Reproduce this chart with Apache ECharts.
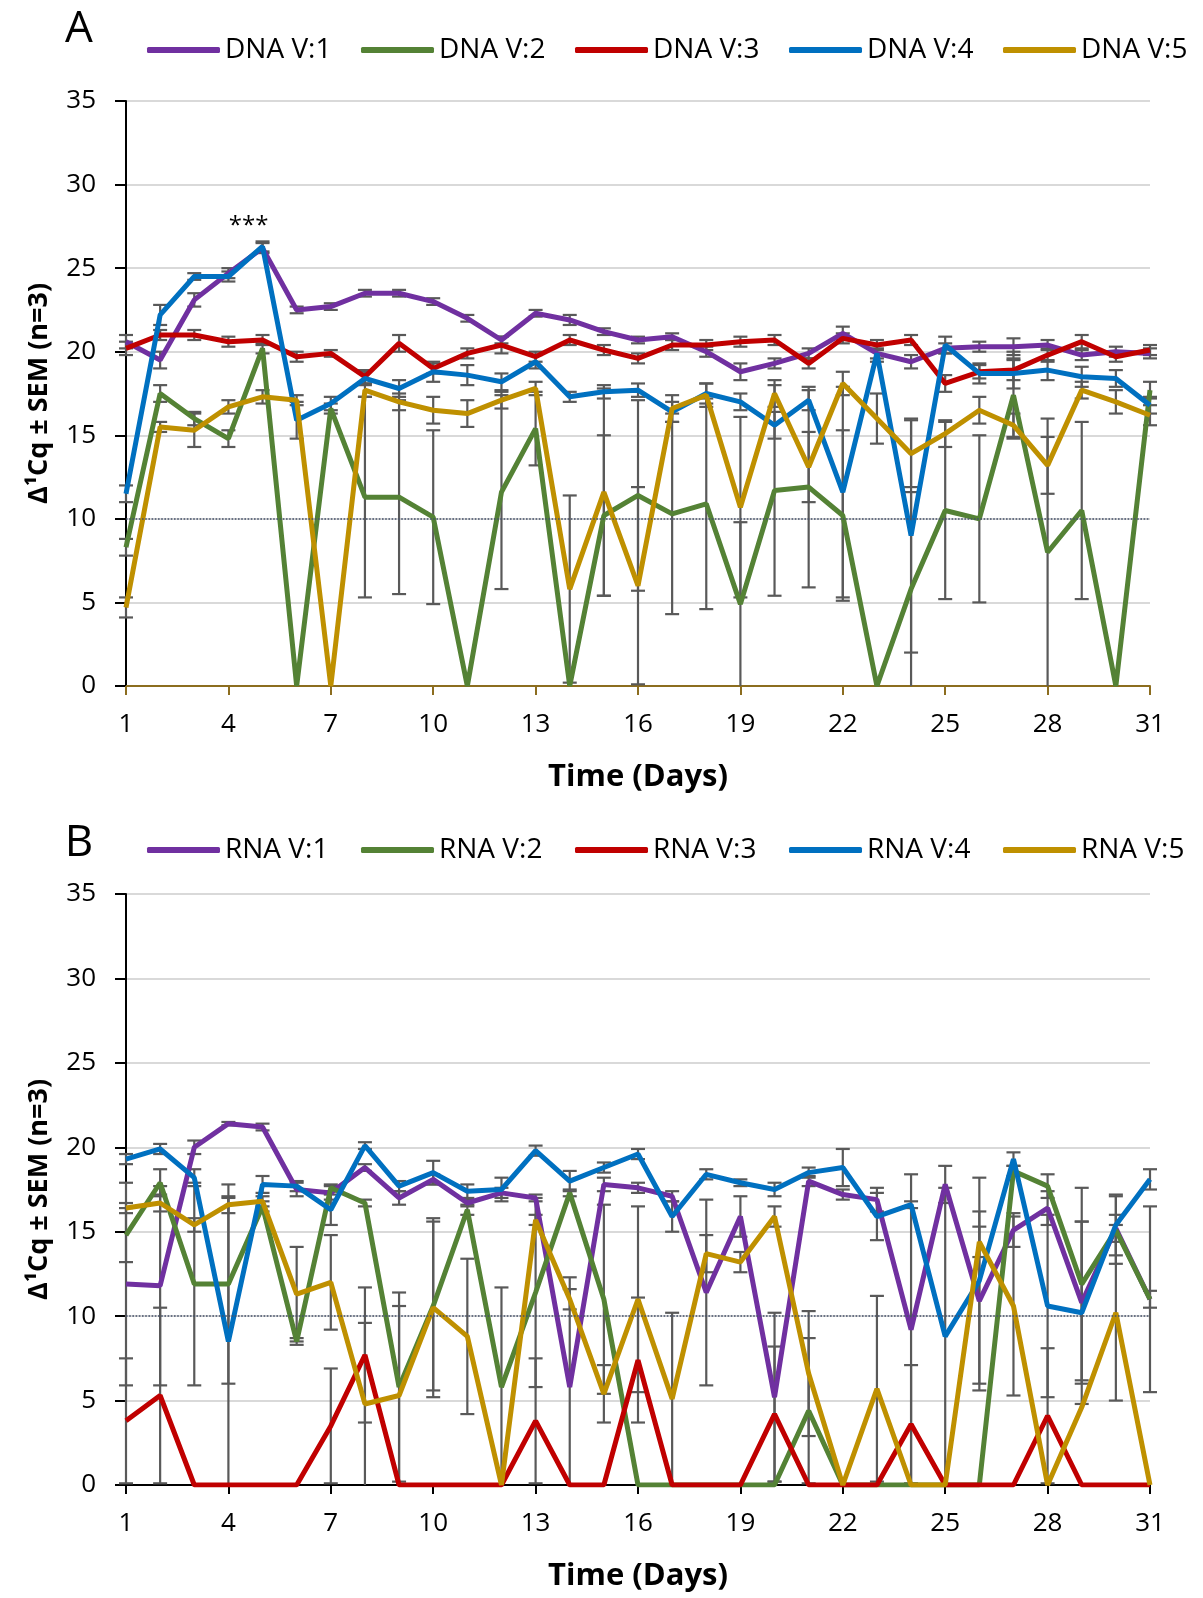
<!DOCTYPE html>
<html>
<head>
<meta charset="utf-8">
<script src="https://cdn.jsdelivr.net/npm/echarts@6/dist/echarts.min.js"></script>
<style>
html,body{margin:0;padding:0;background:#fff;}
#c{width:1203px;height:1598px;}
</style>
</head>
<body>
<div id="c"></div>
<script>
// ---------- data ----------
const days = ['1','2','3','4','5','6','7','8','9','10','11','12','13','14','15','16','17','18','19','20','21','22','23','24','25','26','27','28','29','30','31'];
const yTicks = [0, 5, 10, 15, 20, 25, 30, 35];
const dnaNames = ['DNA V:1','DNA V:2','DNA V:3','DNA V:4','DNA V:5'];
const rnaNames = ['RNA V:1','RNA V:2','RNA V:3','RNA V:4','RNA V:5'];

const dnaV1 = [20.6,19.5,23.1,24.7,26.2,22.5,22.7,23.5,23.5,23.0, 22.0,20.7,22.3,21.9,21.2,20.7,20.9,20.0,18.8,19.3, 19.9,21.1,19.9,19.4,20.2,20.3,20.3,20.4,19.8,20.0,19.9];
const dnaV2 = [8.3,17.5,16.0,14.8,20.2,0,16.6,11.3,11.3,10.1, 0,11.6,15.4,0,10.2,11.4,10.3,10.9,4.9,11.7, 11.9,10.2,0,5.8,10.5,10.0,17.4,8.0,10.5,0,17.7];
const dnaV3 = [20.2,21.0,21.0,20.6,20.7,19.7,19.9,18.5,20.5,19.0, 19.9,20.4,19.7,20.7,20.1,19.6,20.4,20.4,20.6,20.7, 19.3,20.8,20.4,20.7,18.1,18.8,18.9,19.8,20.6,19.7,20.1];
const dnaV4 = [11.5,22.2,24.5,24.5,26.3,15.9,16.9,18.4,17.8,18.8, 18.6,18.2,19.4,17.3,17.6,17.7,16.4,17.5,17.0,15.6, 17.1,11.6,19.9,9.0,20.4,18.7,18.7,18.9,18.5,18.4,16.8];
const dnaV5 = [4.7,15.5,15.3,16.7,17.3,17.1,0,17.7,17.0,16.5, 16.3,17.1,17.8,5.8,11.6,6.0,16.6,17.4,10.7,17.5, 13.1,18.1,16.0,13.9,15.1,16.5,15.6,13.2,17.7,17.0,16.2];

const dnaV1Sem = [0.4,0.5,0.4,0.3,0.3,0.2,0.2,0.2,0.2,0.2, 0.2,0.2,0.2,0.3,0.2,0.2,0.2,0.3,0.5,0.3, 0.3,0.4,0.3,0.4,0.3,0.3,0.5,0.3,0.3,0.3,0.3];
const dnaV2Sem = [0.5,0.5,0.4,0.5,0.3,0,0.3,6.0,5.8,5.2, 0,5.8,2.2,0,4.8,5.7,6.0,6.3,4.9,6.3, 6.0,5.1,0,5.8,5.3,5.0,2.6,8.0,5.3,0,0.5];
const dnaV3Sem = [0.4,0.3,0.3,0.3,0.3,0.3,0.2,0.4,0.5,0.3, 0.3,0.5,0.3,0.3,0.3,0.3,0.3,0.3,0.3,0.3, 0.3,0.3,0.3,0.3,0.5,0.4,0.6,0.4,0.4,0.3,0.3];
const dnaV4Sem = [0.5,0.6,0.2,0.3,0.3,1.1,0.4,0.4,0.5,0.6, 0.6,0.5,0.4,0.3,0.4,0.4,0.6,0.6,0.5,0.8, 0.6,6.3,0.5,7.0,0.5,0.6,0.9,0.6,0.6,0.5,0.5];
const dnaV5Sem = [0.6,0.3,1.0,0.4,0.4,0.3,0,0.4,0.5,0.8, 0.8,0.5,0.4,5.6,6.2,5.9,0.8,0.7,5.4,0.8, 2.1,0.7,1.5,2.0,0.8,0.8,0.7,1.7,0.5,0.7,0.6];

const rnaV1 = [11.9,11.8,20.0,21.4,21.2,17.5,17.3,18.8,17.0,18.1, 16.7,17.3,17.0,5.8,17.8,17.6,17.1,11.4,15.9,5.2, 18.0,17.2,16.9,9.2,17.8,10.9,15.1,16.4,10.8,15.2,11.0];
const rnaV2 = [14.8,17.9,11.9,11.9,16.5,8.5,17.6,16.7,5.8,10.6, 16.3,5.8,11.4,17.3,11.0,0,0,0,0,0, 4.4,0,0,0,0,0,18.6,17.7,11.9,15.1,11.0];
const rnaV3 = [3.8,5.3,0,0,0,0,3.5,7.7,0,0, 0,0,3.8,0,0,7.4,0,0,0,4.2, 0,0,0,3.6,0,0,0,4.1,0,0,0];
const rnaV4 = [19.3,19.9,18.2,8.5,17.8,17.7,16.3,20.1,17.7,18.5, 17.4,17.5,19.8,18.0,18.8,19.6,15.9,18.4,17.9,17.5, 18.5,18.8,15.9,16.6,8.8,12.1,19.3,10.6,10.2,15.4,18.1];
const rnaV5 = [16.4,16.7,15.4,16.6,16.8,11.3,12.0,4.8,5.3,10.5, 8.8,0,15.7,11.0,5.4,11.0,5.1,13.7,13.2,15.9, 6.6,0,5.7,0,0,14.4,10.6,0,4.6,10.2,0];

const rnaV1Sem = [6.0,5.9,0.4,0.1,0.2,0.4,0.4,0.2,0.4,0.3, 0.2,0.3,0.2,6.5,0.4,0.3,0.3,5.5,1.2,5.0, 0.3,0.3,0.7,9.2,1.1,5.3,1.0,1.0,4.8,0.8,0.5];
const rnaV2Sem = [1.6,0.8,6.0,5.9,0.3,0.2,0.2,0.2,5.6,5.0, 0.3,5.9,5.6,0.2,5.6,0,0,0,0,0, 4.3,0,0,0,0,0,0.3,0.7,5.7,2.0,5.5];
const rnaV3Sem = [3.7,5.2,0,0,0,0,3.4,4.0,0,0, 0,0,3.7,0,0,3.7,0,0,0,4.0, 0,0,0,3.5,0,0,0,4.0,0,0,0];
const rnaV4Sem = [0.3,0.3,0.5,8.5,0.5,0.3,0.9,0.2,0.3,0.7, 0.4,0.7,0.3,0.6,0.3,0.3,0.9,0.3,0.2,0.4, 0.3,1.1,1.4,0.2,8.8,6.1,0.4,5.4,5.4,1.8,0.6];
const rnaV5Sem = [0.3,0.5,0.4,0.5,0.3,2.8,2.8,4.8,5.3,5.3, 4.6,0,0.3,0.6,1.7,5.5,5.1,1.1,0.6,0.6, 3.7,0,5.5,0,0,0.9,5.3,0,0,5.2,0];

const refLine = 10;
const starLabel = '***';
const starDayIndex = 4;
const starValue = 27.5;

// ---------- styling ----------
const FONT = "'Open Sans', 'Noto Sans', sans-serif";
const COLORS = ['#7030A0', '#548235', '#C00000', '#0070C0', '#BF9000'];
const ERR_COLOR = '#595959';

const dnaVals = [dnaV1, dnaV2, dnaV3, dnaV4, dnaV5];
const dnaSems = [dnaV1Sem, dnaV2Sem, dnaV3Sem, dnaV4Sem, dnaV5Sem];
const rnaVals = [rnaV1, rnaV2, rnaV3, rnaV4, rnaV5];
const rnaSems = [rnaV1Sem, rnaV2Sem, rnaV3Sem, rnaV4Sem, rnaV5Sem];

function errRender(params, api) {
  const i = api.value(0), v = api.value(1), e = api.value(2);
  if (!e) return null;
  const hi = v + e, lo = Math.max(v - e, 0);
  const pT = api.coord([i, hi]);
  const pB = api.coord([i, lo]);
  const w = 7;
  const st = { stroke: ERR_COLOR, lineWidth: 2.2 };
  const ch = [
    { type: 'line', shape: { x1: pT[0], y1: pT[1], x2: pB[0], y2: pB[1] }, style: st },
    { type: 'line', shape: { x1: pT[0] - w, y1: pT[1], x2: pT[0] + w, y2: pT[1] }, style: st }
  ];
  if (v - e > 0) ch.push({ type: 'line', shape: { x1: pB[0] - w, y1: pB[1], x2: pB[0] + w, y2: pB[1] }, style: st });
  return { type: 'group', children: ch };
}

function buildSeries(names, vals, sems, axisIdx, withStar) {
  const out = [];
  names.forEach((n, k) => {
    out.push({
      type: 'custom', name: 'err_' + n, xAxisIndex: axisIdx, yAxisIndex: axisIdx,
      z: 2, silent: true, renderItem: errRender,
      data: vals[k].map((v, i) => [i, v, sems[k][i]])
    });
  });
  names.forEach((n, k) => {
    const s = {
      type: 'line', name: n, xAxisIndex: axisIdx, yAxisIndex: axisIdx,
      data: vals[k], symbol: 'none', z: 3,
      lineStyle: { width: 5, color: COLORS[k] }, itemStyle: { color: COLORS[k] }
    };
    if (k === 0) {
      s.markLine = {
        silent: true, symbol: ['none', 'none'], label: { show: false },
        lineStyle: { type: 'dotted', color: '#44506a', width: 1.6 },
        data: [{ yAxis: refLine }]
      };
      if (withStar) {
        s.markPoint = {
          symbol: 'circle', symbolSize: 1, itemStyle: { color: 'rgba(0,0,0,0)' },
          label: { show: true, formatter: starLabel, fontSize: 24, color: '#000', fontFamily: FONT, offset: [-14, 0] },
          data: [{ coord: [starDayIndex, starValue] }]
        };
      }
    }
    out.push(s);
  });
  return out;
}

function xAxisCfg(idx, color) {
  return {
    type: 'category', gridIndex: idx, data: days, boundaryGap: false,
    axisLine: { lineStyle: { color: color, width: 2 } },
    axisTick: { interval: 2, length: 9, lineStyle: { color: color, width: 2 } },
    axisLabel: { interval: 2, fontSize: 26, color: '#000', margin: 26, fontFamily: FONT },
    splitLine: { show: false },
    name: 'Time (Days)', nameLocation: 'middle', nameGap: 76,
    nameTextStyle: { fontWeight: 'bold', fontSize: 31, color: '#000', fontFamily: FONT }
  };
}
function yAxisCfg(idx) {
  return {
    type: 'value', gridIndex: idx, min: yTicks[0], max: yTicks[yTicks.length - 1], interval: yTicks[1] - yTicks[0],
    axisLine: { show: true, lineStyle: { color: '#000', width: 2 } },
    axisTick: { show: true, length: 11, lineStyle: { color: '#000', width: 2 } },
    axisLabel: { fontSize: 26, color: '#000', margin: 30, fontFamily: FONT },
    splitLine: { lineStyle: { color: '#d9d9d9', width: 2 } },
    name: 'Δ¹Cq ± SEM (n=3)', nameLocation: 'middle', nameGap: 73,
    nameTextStyle: { fontWeight: 'bold', fontSize: 27, color: '#000', fontFamily: FONT }
  };
}
function legendCfg(names, top) {
  return {
    data: names, left: 147, top: top, padding: 0, orient: 'horizontal',
    icon: 'roundRect', itemWidth: 73, itemHeight: 6, itemGap: 26,
    textStyle: { fontSize: 28, color: '#000', fontFamily: FONT, width: 110, lineHeight: 30 }
  };
}

const chart = echarts.init(document.getElementById('c'), null, { renderer: 'canvas' });
chart.setOption({
  animation: false,
  backgroundColor: '#fff',
  textStyle: { fontFamily: FONT },
  grid: [
    { left: 126, right: 53, top: 101, height: 585 },
    { left: 126, right: 53, top: 894, height: 591 }
  ],
  xAxis: [xAxisCfg(0, '#8c6d1f'), xAxisCfg(1, '#000')],
  yAxis: [yAxisCfg(0), yAxisCfg(1)],
  legend: [legendCfg(dnaNames, 35), legendCfg(rnaNames, 835)],
  graphic: [
    { type: 'text', x: 79, y: 29, style: { text: 'A', fontSize: 44, fontFamily: FONT, fill: '#000', align: 'center', verticalAlign: 'middle' } },
    { type: 'text', x: 79, y: 843, style: { text: 'B', fontSize: 44, fontFamily: FONT, fill: '#000', align: 'center', verticalAlign: 'middle' } }
  ],
  series: [].concat(
    buildSeries(dnaNames, dnaVals, dnaSems, 0, true),
    buildSeries(rnaNames, rnaVals, rnaSems, 1, false)
  )
});
</script>
</body>
</html>
